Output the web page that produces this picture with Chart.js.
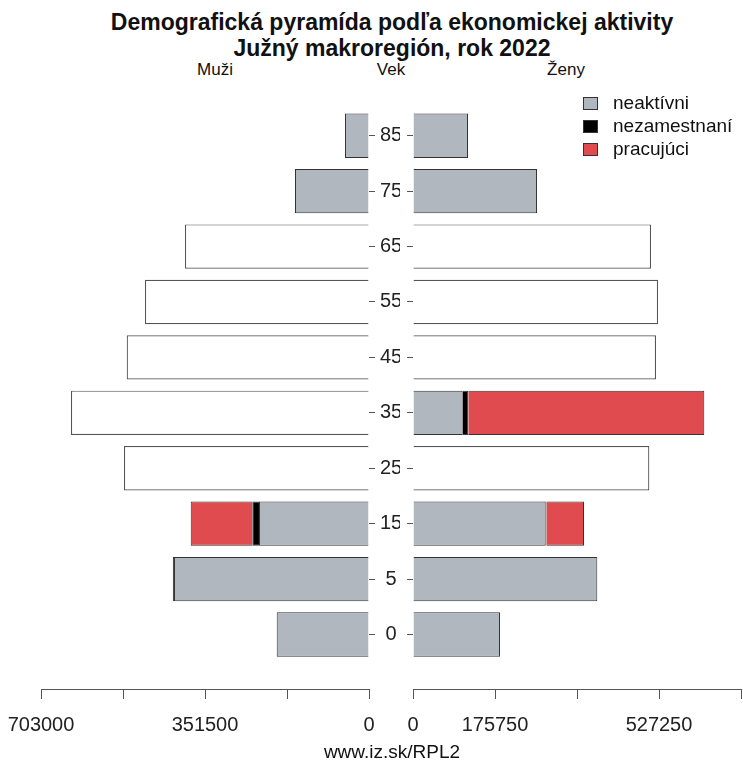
<!DOCTYPE html>
<html>
<head>
<meta charset="utf-8">
<script src="https://cdn.jsdelivr.net/npm/chart.js@4/dist/chart.umd.min.js"></script>
<style>
  body { margin: 0; background: #fff; font-family: "Liberation Sans", Arial, sans-serif; color: #111; }
  #wrap { position: relative; width: 743px; height: 767px; overflow: hidden; }
  .txt { position: absolute; white-space: nowrap; }
  #left { position: absolute; left: 0; top: 0; }
  #right { position: absolute; left: 400px; top: 0; }
  .legrow { position: absolute; left: 583px; height: 20px; line-height: 20px; font-size: 19px; }
  .legrow span.box { position: absolute; left: 0; top: 4px; width: 13px; height: 11px; border: 1px solid #333; }
  .legrow span.lab { position: absolute; left: 30px; top: 0; }
</style>
</head>
<body>
<div id="wrap">
  <div class="txt" style="left:92px;width:600px;text-align:center;top:9px;line-height:26px;font-size:23px;font-weight:bold">Demografická pyramída podľa ekonomickej aktivity</div>
  <div class="txt" style="left:92px;width:600px;text-align:center;top:35px;line-height:26px;font-size:23px;font-weight:bold">Južný makroregión, rok 2022</div>
  <div class="txt" style="left:165px;width:100px;text-align:center;top:60px;line-height:20px;font-size:17px">Muži</div>
  <div class="txt" style="left:341px;width:100px;text-align:center;top:60px;line-height:20px;font-size:17px">Vek</div>
  <div class="txt" style="left:516px;width:100px;text-align:center;top:60px;line-height:20px;font-size:17px">Ženy</div>
  <canvas id="left" width="400" height="767"></canvas>
  <canvas id="right" width="343" height="767"></canvas>
  <div id="legend"></div>
  <div class="txt" style="left:292px;width:200px;text-align:center;top:741px;line-height:22px;font-size:19px">www.iz.sk/RPL2</div>
</div>
<script>
// age groups, bottom to top
const ages = ["0", "5", "15", "25", "35", "45", "55", "65", "75", "85"];

// muži
const menInactive   = [197800, 418000, 235800, 0, 0, 0, 0, 0, 158600, 51400];
const menUnemployed = [0, 2500, 14300, 0, 0, 0, 0, 0, 0, 0];
const menWorking    = [0, 0, 132000, 0, 0, 0, 0, 0, 0, 0];
const menTotalOnly  = [0, 0, 0, 525100, 638700, 519300, 480100, 394400, 0, 0];

// ženy
const womenInactive   = [186500, 395000, 284400, 0, 106500, 0, 0, 0, 265800, 117900];
const womenUnemployed = [0, 0, 1500, 0, 12000, 0, 0, 0, 0, 0];
const womenWorking    = [0, 0, 80600, 0, 505800, 0, 0, 0, 0, 0];
const womenTotalOnly  = [0, 0, 0, 506500, 0, 520800, 525100, 510100, 0, 0];

const seriesNames = ["neaktívni", "nezamestnaní", "pracujúci"];
const seriesColors = ["#b0b7bf", "#000000", "#df4b4e"];

const axisMax = 703000;
const axisStep = 175750;
const leftTickLabels = [703000, 351500, 0];
const rightTickLabels = [0, 175750, 527250];

const font = { family: "'Liberation Sans', Arial, sans-serif", size: 20 };

function pts(arr) {
  return arr.map((v, i) => ({ x: v, y: i }));
}

function datasets(inactive, unemployed, working, totalOnly) {
  const sets = [inactive, unemployed, working].map((arr, k) => ({
    label: seriesNames[k],
    data: pts(arr),
    backgroundColor: seriesColors[k],
    borderColor: "#333",
    borderWidth: 1,
    barPercentage: 0.8,
    categoryPercentage: 1
  }));
  sets.push({
    label: "spolu",
    data: pts(totalOnly),
    backgroundColor: "#ffffff",
    borderColor: "#555",
    borderWidth: 1.2,
    barPercentage: 0.8,
    categoryPercentage: 1
  });
  return sets;
}

function options(side) {
  const isLeft = side === "left";
  const shown = isLeft ? leftTickLabels : rightTickLabels;
  return {
    indexAxis: "y",
    responsive: false,
    animation: false,
    layout: { padding: isLeft ? { left: 41, right: 0, top: 108, bottom: 35 } : { left: 0, right: 2, top: 108, bottom: 35 } },
    plugins: { legend: { display: false }, tooltip: { enabled: false } },
    scales: {
      x: {
        stacked: true,
        reverse: isLeft,
        min: 0,
        max: axisMax,
        border: { display: true, color: "#555", width: 1 },
        grid: { drawOnChartArea: false, drawTicks: true, tickLength: 10, color: "#555" },
        afterFit: (s) => { s.paddingLeft = 0; s.paddingRight = 0; s.height = 43; },
        ticks: {
          stepSize: axisStep,
          autoSkip: false,
          maxRotation: 0,
          padding: 14,
          color: "#222",
          font: font,
          callback: (v) => (shown.includes(v) ? String(v) : "")
        }
      },
      y: {
        type: "linear",
        stacked: true,
        offset: false,
        position: isLeft ? "right" : "left",
        min: -0.984,
        max: 9.5,
        border: { display: false },
        grid: { offset: false, drawOnChartArea: false, drawTicks: true, tickLength: 6, color: "#555" },
        afterBuildTicks: (s) => { s.ticks = ages.map((_, i) => ({ value: i })); },
        afterFit: (s) => { s.width = isLeft ? 31 : 13; s.paddingTop = 0; s.paddingBottom = 0; },
        ticks: {
          padding: 5,
          crossAlign: "center",
          color: "#222",
          font: font,
          callback: (v) => (isLeft ? ages[v] : "")
        }
      }
    }
  };
}

new Chart(document.getElementById("left"), {
  type: "bar",
  data: { datasets: datasets(menInactive, menUnemployed, menWorking, menTotalOnly) },
  options: options("left")
});

new Chart(document.getElementById("right"), {
  type: "bar",
  data: { datasets: datasets(womenInactive, womenUnemployed, womenWorking, womenTotalOnly) },
  options: options("right")
});

// legend
const legend = document.getElementById("legend");
seriesNames.forEach((name, i) => {
  const row = document.createElement("div");
  row.className = "legrow";
  row.style.top = (93 + i * 23) + "px";
  row.innerHTML = '<span class="box" style="background:' + seriesColors[i] + '"></span><span class="lab">' + name + "</span>";
  legend.appendChild(row);
});
</script>
</body>
</html>
